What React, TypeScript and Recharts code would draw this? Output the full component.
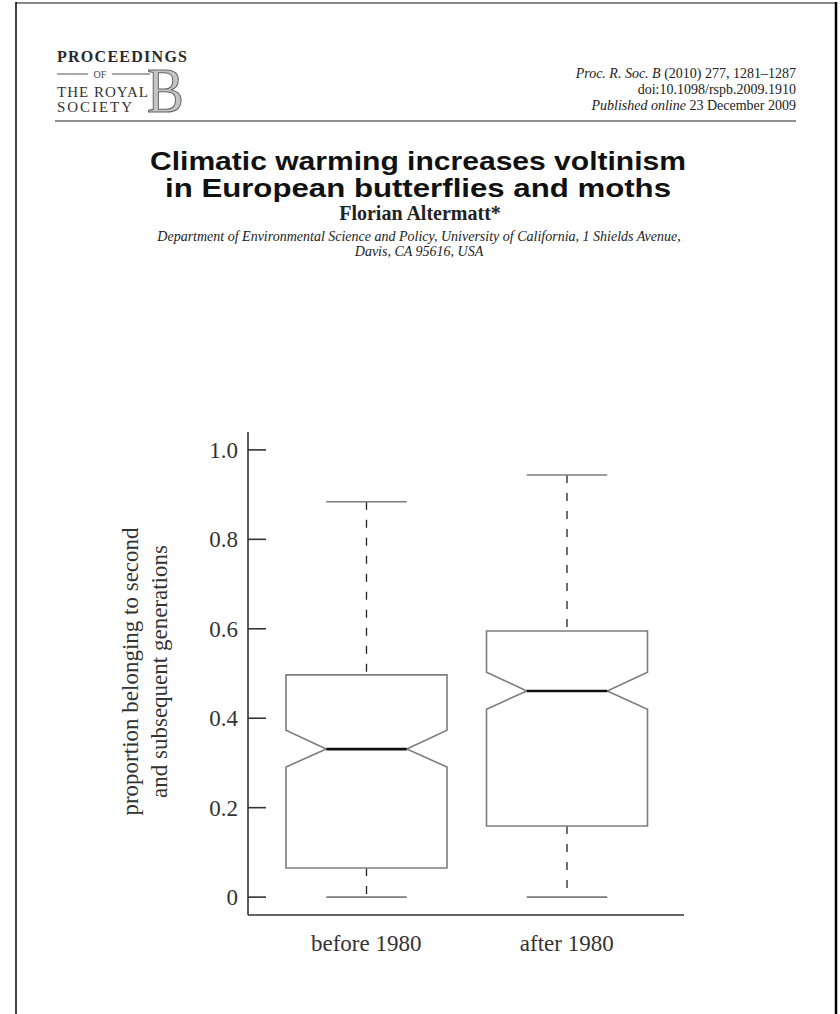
import React from "react";
import { Bar, ComposedChart, Label, XAxis, YAxis } from "recharts";

// box plot values
const groups = ["before 1980", "after 1980"];
const whiskerLow = [0, 0];
const quart1 = [0.065, 0.159];
const notchLow = [0.291, 0.42];
const medians = [0.331, 0.461];
const notchHigh = [0.373, 0.503];
const quart3 = [0.497, 0.595];
const whiskerHigh = [0.884, 0.944];

const yTicks = [0, 0.2, 0.4, 0.6, 0.8, 1.0];

const data = groups.map((name, i) => ({
  name,
  lo: whiskerLow[i],
  q1: quart1[i],
  nlo: notchLow[i],
  med: medians[i],
  nhi: notchHigh[i],
  q3: quart3[i],
  hi: whiskerHigh[i],
}));

const SERIF = "'Liberation Serif', 'Times New Roman', serif";
const SANS = "'Liberation Sans', Arial, sans-serif";
const INK = "#333";
const BOX = "#7d7d7d";

function NotchBox(props: any) {
  const { x, y, width, height, payload } = props;
  if (!payload) return null;
  const top = Math.min(y, y + height);
  const h = Math.abs(height);
  const ppu = h / (payload.hi - payload.lo);
  const yOf = (v: number) => top + (payload.hi - v) * ppu;
  const cx = x + width / 2;
  const l = x;
  const r = x + width;
  const inset = width / 4;
  const cap = width / 4;
  const pts = [
    [l, yOf(payload.q3)],
    [r, yOf(payload.q3)],
    [r, yOf(payload.nhi)],
    [r - inset, yOf(payload.med)],
    [r, yOf(payload.nlo)],
    [r, yOf(payload.q1)],
    [l, yOf(payload.q1)],
    [l, yOf(payload.nlo)],
    [l + inset, yOf(payload.med)],
    [l, yOf(payload.nhi)],
  ]
    .map((p) => p.join(","))
    .join(" ");
  return (
    <g>
      <line x1={cx} x2={cx} y1={yOf(payload.hi)} y2={yOf(payload.q3)} stroke="#222" strokeWidth={1.3} strokeDasharray="8 10" />
      <line x1={cx} x2={cx} y1={yOf(payload.q1)} y2={yOf(payload.lo)} stroke="#222" strokeWidth={1.3} strokeDasharray="8 10" />
      <line x1={cx - cap} x2={cx + cap} y1={yOf(payload.hi)} y2={yOf(payload.hi)} stroke={BOX} strokeWidth={1.6} />
      <line x1={cx - cap} x2={cx + cap} y1={yOf(payload.lo)} y2={yOf(payload.lo)} stroke={BOX} strokeWidth={1.6} />
      <polygon points={pts} fill="none" stroke={BOX} strokeWidth={1.6} />
      <line x1={l + inset} x2={r - inset} y1={yOf(payload.med)} y2={yOf(payload.med)} stroke="#111" strokeWidth={2.6} />
    </g>
  );
}

function YTitle(props: any) {
  const vb = props.viewBox || {};
  const cy = vb.y + vb.height / 2;
  const lines = ["proportion belonging to second", "and subsequent generations"];
  const xs = [vb.x + 30, vb.x + 59];
  return (
    <g>
      {lines.map((t, i) => (
        <text
          key={t}
          transform={`translate(${xs[i]},${cy - 2}) rotate(-90)`}
          textAnchor="middle"
          dominantBaseline="central"
          fontFamily={SERIF}
          fontSize={23}
          fill={INK}
        >
          {t}
        </text>
      ))}
    </g>
  );
}

function PageHead() {
  return (
    <svg width={840} height={1014} style={{ position: "absolute", left: 0, top: 0 }}>
      <rect x={0} y={0} width={840} height={1014} fill="#fff" />
      {/* page frame */}
      <line x1={16} x2={837} y1={3} y2={3} stroke="#888" strokeWidth={2} />
      <line x1={16} x2={16} y1={2} y2={1014} stroke="#000" strokeWidth={1.5} />
      <line x1={836} x2={836} y1={2} y2={1014} stroke="#000" strokeWidth={2.5} />

      {/* journal logo */}
      <text x={57} y={62} fontFamily={SERIF} fontWeight="bold" fontSize={16} fill="#2a2a2a" textLength={130}>
        PROCEEDINGS
      </text>
      <line x1={57} x2={88} y1={74} y2={74} stroke="#555" strokeWidth={1} />
      <line x1={112} x2={150} y1={74} y2={74} stroke="#555" strokeWidth={1} />
      <text x={100} y={78} fontFamily={SERIF} fontSize={10} fill="#444" textAnchor="middle">
        OF
      </text>
      <text x={57} y={97} fontFamily={SERIF} fontSize={15} fill="#333" textLength={91}>
        THE ROYAL
      </text>
      <text x={57} y={112} fontFamily={SERIF} fontSize={15} fill="#333" textLength={75}>
        SOCIETY
      </text>
      <text
        transform="translate(147,112) scale(1.2,1.4)"
        fontFamily={SERIF}
        fontSize={46}
        fill="#c4c4c4"
        stroke="#666"
        strokeWidth={0.8}
      >
        B
      </text>

      {/* citation block */}
      <text x={796} y={78} fontFamily={SERIF} fontSize={14} fill="#222" textAnchor="end">
        <tspan fontStyle="italic">Proc. R. Soc. B</tspan> (2010) 277, 1281–1287
      </text>
      <text x={796} y={94} fontFamily={SERIF} fontSize={14} fill="#222" textAnchor="end">
        doi:10.1098/rspb.2009.1910
      </text>
      <text x={796} y={110} fontFamily={SERIF} fontSize={14} fill="#222" textAnchor="end">
        <tspan fontStyle="italic">Published online</tspan> 23 December 2009
      </text>
      <line x1={55} x2={796} y1={121} y2={121} stroke="#222" strokeWidth={1.2} />

      {/* article title */}
      <text x={418} y={170} fontFamily={SANS} fontWeight="bold" fontSize={25} fill="#111" textAnchor="middle" textLength={536} lengthAdjust="spacingAndGlyphs">
        Climatic warming increases voltinism
      </text>
      <text x={418} y={197} fontFamily={SANS} fontWeight="bold" fontSize={25} fill="#111" textAnchor="middle" textLength={506} lengthAdjust="spacingAndGlyphs">
        in European butterflies and moths
      </text>
      <text x={420} y={220} fontFamily={SERIF} fontWeight="bold" fontSize={20} fill="#222" textAnchor="middle">
        Florian Altermatt*
      </text>
      <text x={419} y={241} fontFamily={SERIF} fontStyle="italic" fontSize={14} fill="#222" textAnchor="middle">
        Department of Environmental Science and Policy, University of California, 1 Shields Avenue,
      </text>
      <text x={419} y={256} fontFamily={SERIF} fontStyle="italic" fontSize={14} fill="#222" textAnchor="middle">
        Davis, CA 95616, USA
      </text>
    </svg>
  );
}

export default function App() {
  return (
    <div style={{ position: "absolute", left: 0, top: 0, width: 840, height: 1014, overflow: "hidden", background: "#fff" }}>
      <PageHead />
      <div style={{ position: "absolute", left: 0, top: 0 }}>
        <ComposedChart
          width={840}
          height={1014}
          data={data}
          margin={{ top: 432, right: 156, bottom: 39, left: 100 }}
        >
          <XAxis
            dataKey="name"
            height={60}
            padding={{ left: 18, right: 17 }}
            axisLine={{ stroke: INK, strokeWidth: 1.6 }}
            tickLine={false}
            tickSize={0}
            tickMargin={20}
            tick={{ fontFamily: SERIF, fontSize: 23, fill: INK }}
          />
          <YAxis
            type="number"
            width={148}
            domain={[-0.04, 1.04]}
            ticks={yTicks}
            allowDataOverflow
            axisLine={{ stroke: INK, strokeWidth: 1.6 }}
            tickLine={{ stroke: INK, strokeWidth: 1.6 }}
            tickSize={-18}
            tickMargin={28}
            tickFormatter={(v: number) => (v === 0 ? "0" : v.toFixed(1))}
            tick={{ fontFamily: SERIF, fontSize: 23, fill: INK }}
          >
            <Label content={(p: any) => <YTitle {...p} />} />
          </YAxis>
          <Bar
            dataKey={(d: any) => [d.lo, d.hi]}
            barSize={161}
            shape={(p: any) => <NotchBox {...p} />}
            isAnimationActive={false}
          />
        </ComposedChart>
      </div>
    </div>
  );
}
